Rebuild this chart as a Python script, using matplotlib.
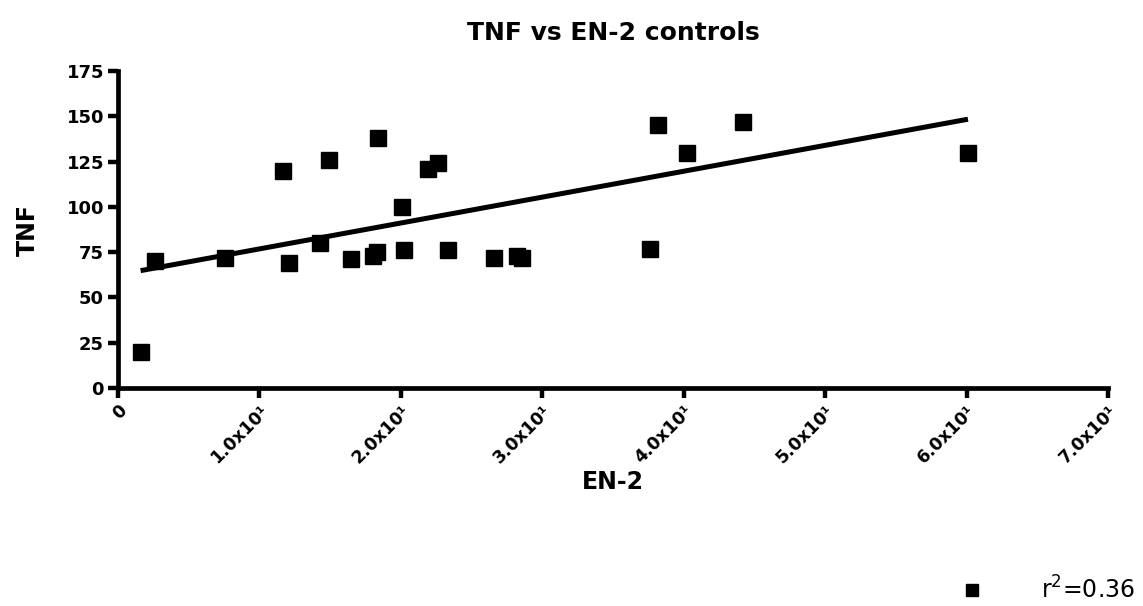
import numpy as np
import matplotlib
matplotlib.use("Agg")
import matplotlib.pyplot as plt

plt.rcParams["font.family"] = ["DejaVu Sans"]

# EN-2 vs TNF in the control group
en2 = [1.6, 2.6, 7.6, 11.7, 12.1, 14.3, 14.9, 16.5, 18.0, 18.3, 18.4, 20.1, 20.2,
       21.9, 22.6, 23.3, 26.6, 28.2, 28.6, 37.6, 38.2, 40.2, 44.2, 60.1]
tnf = [20, 70, 72, 120, 69, 80, 126, 71, 73, 75, 138, 100, 76,
       121, 124, 76, 72, 73, 72, 77, 145, 130, 147, 130]

# regression line as reported with the group
fit_slope = 1.429
fit_intercept = 62.5
r2_label = "r$^2$=0.36"

x_ticks = [0, 10, 20, 30, 40, 50, 60, 70]
x_tick_labels = ["0", "1.0x10¹", "2.0x10¹", "3.0x10¹", "4.0x10¹", "5.0x10¹", "6.0x10¹", "7.0x10¹"]
y_ticks = [0, 25, 50, 75, 100, 125, 150, 175]

fit_x = np.array([min(en2), max(en2)])
fit_y = fit_intercept + fit_slope * fit_x

fig = plt.figure(figsize=(11.43, 6.06), dpi=100)
ax = fig.add_axes([118 / 1143, 1 - 388 / 606, 990 / 1143, 317 / 606])

ax.plot(en2, tnf, linestyle="none", marker="s", markersize=11, color="black", label=r2_label)
ax.plot(fit_x, fit_y, color="black", linewidth=3.6, solid_capstyle="butt")

ax.set_xlim(0, 70)
ax.set_ylim(0, 175)
ax.set_xticks(x_ticks)
ax.set_xticklabels(x_tick_labels, rotation=45, ha="right", rotation_mode="anchor",
                   fontsize=12.5, fontweight="bold")
ax.set_yticks(y_ticks)
ax.set_yticklabels([str(v) for v in y_ticks], fontsize=13, fontweight="bold")

for side in ["top", "right"]:
    ax.spines[side].set_visible(False)
for side in ["left", "bottom"]:
    ax.spines[side].set_linewidth(3.4)
ax.tick_params(direction="out", length=7, width=3.2, pad=3)

ax.set_title("TNF vs EN-2 controls", fontsize=18, fontweight="bold", pad=22)
ax.set_xlabel("EN-2", fontsize=17, fontweight="bold", labelpad=2)
ax.set_ylabel("TNF", fontsize=17, fontweight="bold", labelpad=19)

fig.legend(handles=ax.get_lines()[:1], loc="lower right", bbox_to_anchor=(0.995, 0.0),
           frameon=False, fontsize=17, markerscale=0.85, handletextpad=2.4,
           borderaxespad=0.1, borderpad=0.0, handlelength=1.0)

fig.savefig("out.png", dpi=100)
